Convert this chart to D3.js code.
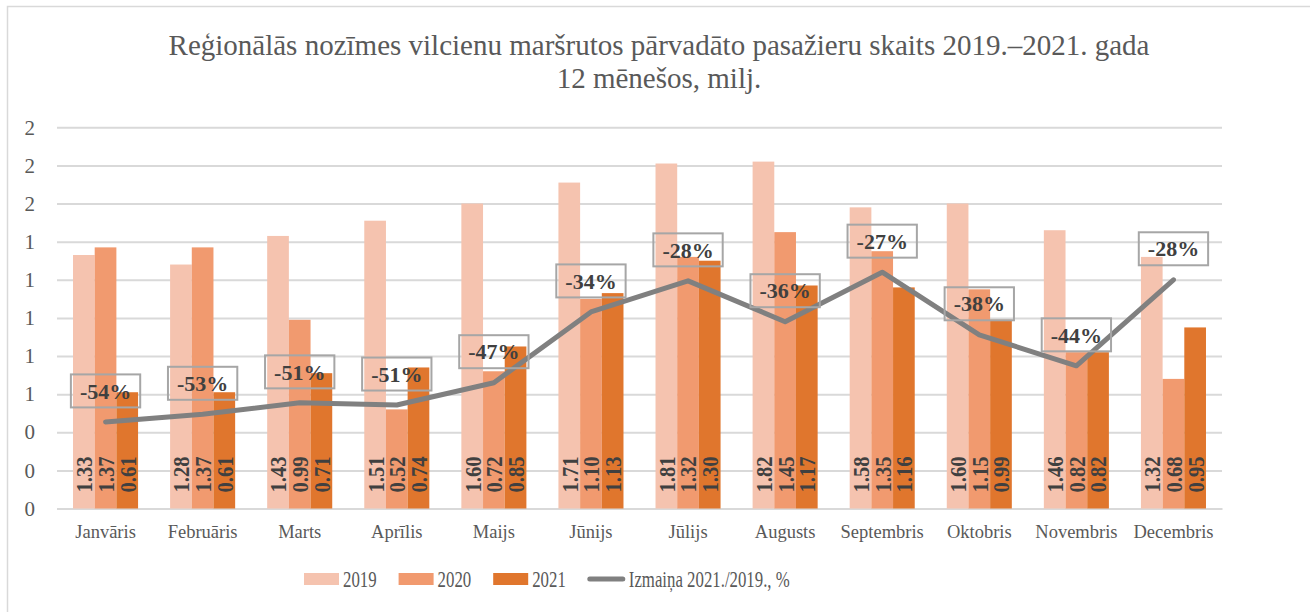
<!DOCTYPE html>
<html>
<head>
<meta charset="utf-8">
<script src="https://cdn.jsdelivr.net/npm/d3@7"></script>
<style>
  body { margin: 0; background: #fff; }
  svg { display: block; font-family: "Liberation Serif", "Times New Roman", serif; }
</style>
</head>
<body>
<div id="chart"></div>
<script>
// data
const months = ['Janvāris', 'Februāris', 'Marts', 'Aprīlis', 'Maijs', 'Jūnijs',
  'Jūlijs', 'Augusts', 'Septembris', 'Oktobris', 'Novembris', 'Decembris'];
const seriesNames = ['2019', '2020', '2021'];
const values2019 = [1.33, 1.28, 1.43, 1.51, 1.60, 1.71, 1.81, 1.82, 1.58, 1.60, 1.46, 1.32];
const values2020 = [1.37, 1.37, 0.99, 0.52, 0.72, 1.10, 1.32, 1.45, 1.35, 1.15, 0.82, 0.68];
const values2021 = [0.61, 0.61, 0.71, 0.74, 0.85, 1.13, 1.30, 1.17, 1.16, 0.99, 0.82, 0.95];
const changePct = [-54.1, -52.7, -50.6, -51.0, -46.9, -33.9, -28.2, -35.7, -26.6, -38.1, -43.8, -28.0];
const yTicks = [0, 0.2, 0.4, 0.6, 0.8, 1.0, 1.2, 1.4, 1.6, 1.8, 2.0];
const lineName = 'Izmaiņa 2021./2019., %';
const titleLines = ['Reģionālās nozīmes vilcienu maršrutos pārvadāto pasažieru skaits 2019.–2021. gada',
  '12 mēnešos, milj.'];

const colors = ['#F5C3AF', '#F19A6F', '#E0762D'];
const lineColor = '#808080';
const textColor = '#595959';
const labelColor = '#404040';

const width = 1310, height = 612;
const plot = { left: 57, right: 1222, top: 127.3, bottom: 508.5 };

const svg = d3.select('#chart').append('svg')
  .attr('width', width)
  .attr('height', height);

svg.append('rect')
  .attr('x', 7.5).attr('y', 6.5)
  .attr('width', width + 20).attr('height', height + 20)
  .attr('fill', '#fff')
  .attr('stroke', '#d9d9d9')
  .attr('stroke-width', 1.5);

// title
svg.append('g').selectAll('text')
  .data(titleLines)
  .enter().append('text')
  .attr('x', 659)
  .attr('y', (d, i) => 55 + i * 33)
  .attr('text-anchor', 'middle')
  .attr('fill', textColor)
  .style('font-size', '29px')
  .text(d => d);

const x = d3.scaleBand()
  .domain(months)
  .range([plot.left, plot.right])
  .paddingInner(0.33)
  .paddingOuter(0.165);

const xs = d3.scaleBand()
  .domain(seriesNames)
  .range([0, x.bandwidth()]);

const y = d3.scaleLinear()
  .domain([0, 2])
  .range([plot.bottom, plot.top]);

// hidden secondary axis for the change line
const y2 = d3.scaleLinear()
  .domain([-70, 0])
  .range([plot.bottom, plot.top]);

// gridlines + y labels
const yAxis = d3.axisLeft(y)
  .tickValues(yTicks)
  .tickSize(-(plot.right - plot.left))
  .tickPadding(22)
  .tickFormat(d3.format('.0f'));

const gy = svg.append('g')
  .attr('transform', 'translate(' + plot.left + ',0)')
  .call(yAxis);
gy.select('.domain').remove();
gy.selectAll('line').attr('stroke', '#d9d9d9').attr('stroke-width', 2);
gy.selectAll('text')
  .attr('fill', textColor)
  .style('font-size', '21px')
  .style('font-family', '"Liberation Serif", serif');

// x labels
const xAxis = d3.axisBottom(x).tickSize(0).tickPadding(16);
const gx = svg.append('g')
  .attr('transform', 'translate(0,' + plot.bottom + ')')
  .call(xAxis);
gx.select('.domain').attr('stroke', '#d9d9d9').attr('stroke-width', 2);
gx.selectAll('text')
  .attr('fill', textColor)
  .style('font-size', '18.5px')
  .style('font-family', '"Liberation Serif", serif');

// bars
const table = months.map((m, i) => ({
  month: m,
  vals: [values2019[i], values2020[i], values2021[i]]
}));

const groups = svg.append('g').selectAll('g')
  .data(table)
  .enter().append('g')
  .attr('transform', d => 'translate(' + x(d.month) + ',0)');

const cells = groups.selectAll('g')
  .data(d => d.vals.map((v, j) => ({ key: seriesNames[j], v: v, j: j })))
  .enter().append('g');

cells.append('rect')
  .attr('x', d => xs(d.key))
  .attr('width', xs.bandwidth())
  .attr('y', d => y(d.v))
  .attr('height', d => plot.bottom - y(d.v))
  .attr('fill', d => colors[d.j]);

cells.append('text')
  .attr('transform', d => 'translate(' + (xs(d.key) + xs.bandwidth() / 2) + ',' + (plot.bottom - 16) + ') rotate(-90)')
  .attr('dy', '0.35em')
  .attr('fill', labelColor)
  .attr('textLength', 36)
  .attr('lengthAdjust', 'spacingAndGlyphs')
  .style('font-size', '24px')
  .style('font-weight', 'bold')
  .text(d => d.v.toFixed(2));

// change line
const cx = m => x(m) + x.bandwidth() / 2;
const line = d3.line()
  .x((d, i) => cx(months[i]))
  .y(d => y2(d));

svg.append('path')
  .datum(changePct)
  .attr('d', line)
  .attr('fill', 'none')
  .attr('stroke', lineColor)
  .attr('stroke-width', 5)
  .attr('stroke-linecap', 'round')
  .attr('stroke-linejoin', 'round');

// boxed percent labels
const pl = svg.append('g').selectAll('g')
  .data(changePct)
  .enter().append('g')
  .attr('transform', (d, i) => 'translate(' + cx(months[i]) + ',' + (y2(d) - 31) + ')');

pl.append('text')
  .attr('text-anchor', 'middle')
  .attr('dy', '0.35em')
  .attr('fill', labelColor)
  .style('font-size', '22px')
  .style('font-weight', 'bold')
  .text(d => Math.round(d) + '%');

pl.each(function() {
  const g = d3.select(this);
  const w = g.select('text').node().getComputedTextLength() + 18;
  g.insert('rect', 'text')
    .attr('x', -w / 2).attr('y', -16.5)
    .attr('width', w).attr('height', 33)
    .attr('fill', 'none')
    .attr('stroke', '#A6A6A6')
    .attr('stroke-width', 2);
});

// legend
const legend = svg.append('g').attr('transform', 'translate(304,579)');
const items = seriesNames.map((s, i) => ({ name: s, color: colors[i], type: 'bar' }))
  .concat([{ name: lineName, color: lineColor, type: 'line' }]);
let lx = 0;
items.forEach(it => {
  const sw = it.type === 'bar' ? 35 : 37;
  if (it.type === 'bar') {
    legend.append('rect')
      .attr('x', lx).attr('y', -6)
      .attr('width', sw).attr('height', 12)
      .attr('fill', it.color);
  } else {
    legend.append('line')
      .attr('x1', lx + 2).attr('x2', lx + sw - 2)
      .attr('stroke', it.color)
      .attr('stroke-width', 5)
      .attr('stroke-linecap', 'round');
  }
  const t = legend.append('text')
    .attr('x', lx + sw + 4)
    .attr('y', 8)
    .attr('fill', textColor)
    .style('font-size', '24px')
    .text(it.name);
  const len = t.node().getComputedTextLength() * 0.7;
  t.attr('textLength', len).attr('lengthAdjust', 'spacingAndGlyphs');
  lx += sw + 4 + len + 22;
});
</script>
</body>
</html>
